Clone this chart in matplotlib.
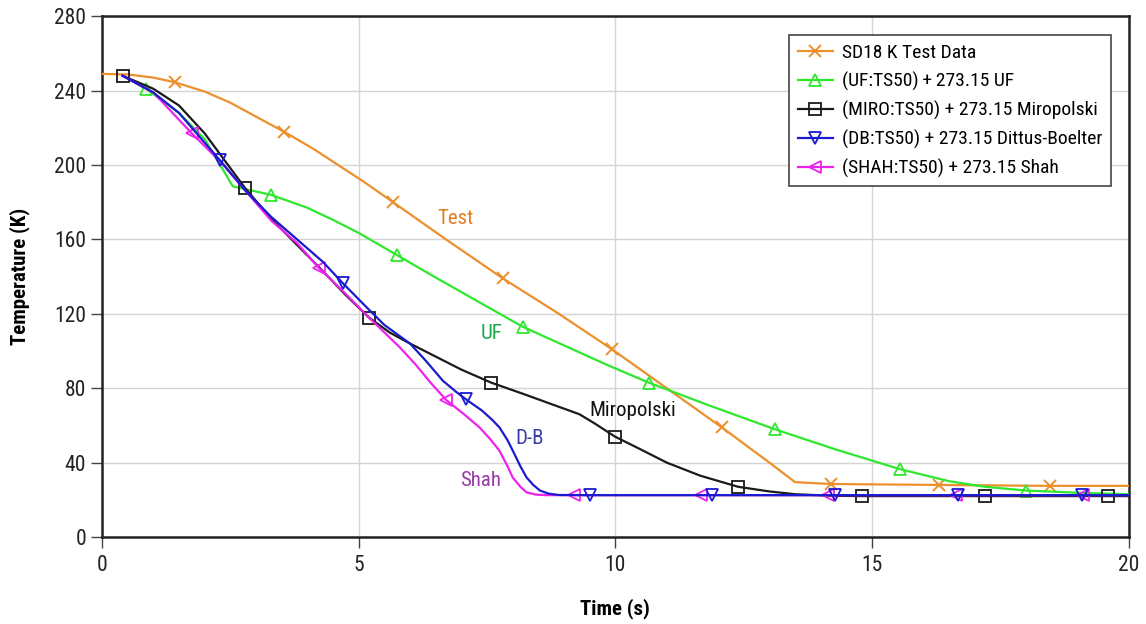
import matplotlib.pyplot as plt

# --- data (time in s, temperature in K) ---
test_t = [0.0, 0.5, 1.0, 1.42, 2.0, 2.5, 3.0, 3.54, 4.1, 4.6, 5.1, 5.67, 6.7, 7.81, 8.9, 9.93, 11.0, 12.07, 13.0, 13.5, 14.2, 16.3, 18.46, 20.0]
test_T = [249, 248.7, 247, 244.5, 239.5, 233.5, 226, 218, 209, 200, 191, 180, 160, 139, 120, 101, 80, 59, 40, 29.5, 28.5, 28, 27.5, 27.5]
test_marks = [3, 7, 11, 13, 15, 17, 20, 21, 22]

uf_t = [0.4, 0.86, 1.5, 2.0, 2.55, 3.29, 4.0, 4.5, 5.0, 5.75, 6.5, 7.3, 8.2, 9.0, 9.8, 10.65, 11.8, 13.1, 14.3, 15.54, 16.5, 17.2, 18.0, 19.0, 20.0]
uf_T = [248, 241, 228, 214, 188.5, 184, 177, 170.5, 163.5, 151.5, 139.5, 127, 113, 103, 93, 83, 71, 58, 47, 36.5, 30, 27, 25, 23.8, 23]
uf_marks = [1, 5, 9, 12, 15, 17, 19, 22]

miro_t = [0.4, 1.0, 1.5, 2.0, 2.79, 3.3, 3.8, 4.3, 4.75, 5.2, 5.6, 6.0, 6.5, 7.0, 7.58, 8.2, 8.8, 9.3, 9.6, 9.99, 10.5, 11.0, 11.65, 12.39, 13.0, 13.5, 14.2, 14.8, 17.2, 19.6, 20.0]
miro_T = [248, 241, 232, 217, 187.5, 171, 157, 143, 130, 118, 110, 104, 97, 90, 83, 77, 71, 66, 61, 54, 47, 40, 33, 27, 24.5, 23, 22.2, 22, 22, 22, 22]
miro_marks = [0, 4, 9, 14, 19, 23, 27, 28, 29]

db_t = [0.4, 1.0, 1.5, 2.0, 2.3, 2.8, 3.3, 3.8, 4.3, 4.69, 5.1, 5.5, 6.0, 6.3, 6.64, 6.9, 7.09, 7.4, 7.6, 7.74, 7.9, 8.0, 8.15, 8.27, 8.4, 8.53, 8.7, 8.9, 9.5, 11.88, 14.27, 16.67, 19.08, 20.0]
db_T = [248, 239, 228, 212, 202.5, 186, 172, 160, 148, 136.5, 125, 114, 104, 95, 84, 78, 74, 68, 63, 59, 52, 46.5, 38, 32, 28, 25, 23.3, 22.6, 22.5, 22.5, 22.5, 22.5, 22.5, 22.5]
db_marks = [4, 9, 16, 28, 29, 30, 31, 32]

shah_t = [0.4, 1.0, 1.75, 2.3, 2.8, 3.3, 3.8, 4.23, 4.7, 5.2, 5.5, 5.8, 6.1, 6.4, 6.71, 7.03, 7.35, 7.55, 7.74, 7.9, 8.0, 8.15, 8.27, 8.45, 8.66, 9.19, 11.67, 14.15, 16.63, 19.11, 20.0]
shah_T = [248, 239, 217, 202, 186, 170, 158, 144.5, 132, 118, 110, 102, 93, 83, 73.5, 66.5, 59, 53, 46.5, 38, 32, 27, 24, 22.8, 22.5, 22.5, 22.5, 22.5, 22.5, 22.5, 22.5]
shah_marks = [2, 7, 14, 25, 26, 27, 28, 29]

plt.rcParams['font.family'] = ['Liberation Sans Narrow', 'Roboto Condensed', 'Liberation Sans', 'DejaVu Sans']

fig = plt.figure(figsize=(11.46, 6.24), dpi=100)
ax = fig.add_axes([0.089, 0.1394, 0.896, 0.8346])

ms = 8
ax.plot(test_t, test_T, color='#ec8f2c', lw=1.6, marker='x', ms=9, mew=1.4,
        markevery=test_marks, label='SD18 K Test Data', zorder=3)
ax.plot(uf_t, uf_T, color='#2ee82e', lw=1.6, marker='^', ms=ms, mfc='none', mew=1.3,
        markevery=uf_marks, label='(UF:TS50)\u2009+\u2009273.15 UF', zorder=3)
ax.plot(miro_t, miro_T, color='#1a1a1a', lw=1.6, marker='s', ms=ms, mfc='none', mew=1.3,
        markevery=miro_marks, label='(MIRO:TS50) + 273.15 Miropolski', zorder=4)
ax.plot(db_t, db_T, color='#1a1ad0', lw=1.6, marker='v', ms=ms, mfc='none', mew=1.3,
        markevery=db_marks, label='(DB:TS50) + 273.15 Dittus-Boelter', zorder=5)
ax.plot(shah_t, shah_T, color='#ee22ee', lw=1.6, marker='<', ms=ms, mfc='none', mew=1.3,
        markevery=shah_marks, label='(SHAH:TS50) + 273.15 Shah', zorder=4)

# curve names
ax.text(6.89, 171.4, 'Test', color='#e07d1c', fontsize=15, ha='center', va='center')
ax.text(7.58, 109.6, 'UF', color='#1aa64a', fontsize=15, ha='center', va='center')
ax.text(10.34, 68.2, 'Miropolski', color='#111111', fontsize=15, ha='center', va='center')
ax.text(8.33, 53.2, 'D-B', color='#3a3aa8', fontsize=15, ha='center', va='center')
ax.text(7.38, 30.6, 'Shah', color='#9a3aa8', fontsize=15, ha='center', va='center')

ax.set_xlim(0, 20)
ax.set_ylim(0, 280)
ax.set_xticks([0, 5, 10, 15, 20])
ax.set_yticks(range(0, 281, 40))
ax.grid(True, color='#d4d4d4', lw=1.0)
ax.set_axisbelow(True)
ax.tick_params(direction='out', length=8, width=1.0, labelsize=15.5, color='#444444',
               labelcolor='#222222')
ax.tick_params(axis='x', pad=5)
for s in ax.spines.values():
    s.set_linewidth(1.8)
    s.set_color('#222222')

ax.set_xlabel('Time (s)', fontsize=15, fontweight='bold', labelpad=16)
ax.set_ylabel('Temperature (K)', fontsize=15, fontweight='bold', labelpad=17)

leg = ax.legend(loc='upper right', bbox_to_anchor=(0.983, 0.9635), fontsize=14,
                frameon=True, fancybox=False, edgecolor='#444444', framealpha=1,
                handlelength=1.8, borderpad=0.45, labelspacing=0.5, handletextpad=0.5,
                borderaxespad=0)
leg.get_frame().set_linewidth(1.2)

fig.savefig('out.png', dpi=100)
